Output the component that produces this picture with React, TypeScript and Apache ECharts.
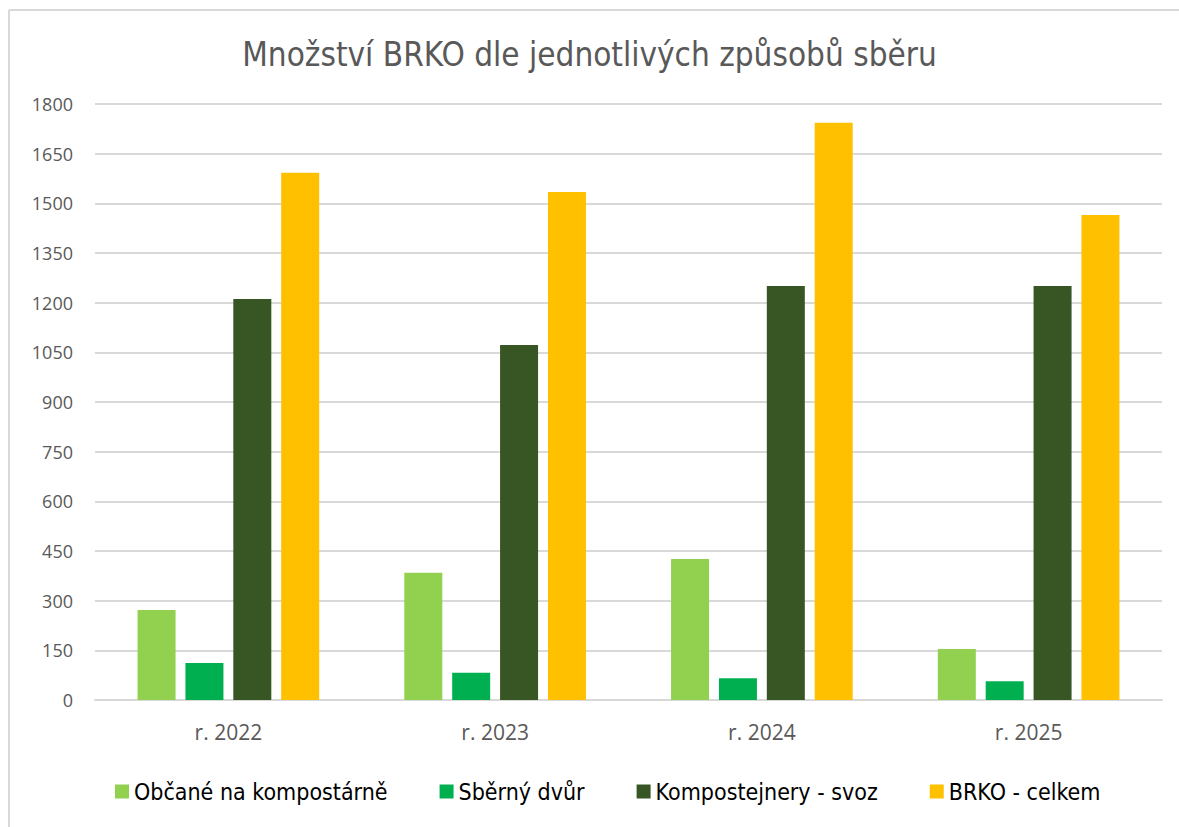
import React, { useEffect, useRef } from "react";
import * as echarts from "echarts";

const categories = ["r. 2022", "r. 2023", "r. 2024", "r. 2025"];
const seriesNames = ["Občané na kompostárně", "Sběrný dvůr", "Kompostejnery - svoz", "BRKO - celkem"];
const obcane = [272, 384, 426, 154];
const sberny = [112, 82, 66, 57];
const kompost = [1211, 1072, 1250, 1250];
const celkem = [1592, 1534, 1743, 1465];
const colors = ["#92D050", "#00B050", "#375623", "#FFC000"];
const yTicks = { min: 0, max: 1800, interval: 150 };

export default function App() {
  const ref = useRef<HTMLDivElement>(null);
  useEffect(() => {
    if (!ref.current) return;
    const chart = echarts.init(ref.current, undefined, { renderer: "svg" });
    const font = "'Open Sans', 'Noto Sans', sans-serif";
    const narrow = "'Liberation Sans Narrow', 'DejaVu Sans Condensed', 'Open Sans', sans-serif";
    const data = [obcane, sberny, kompost, celkem];
    chart.setOption({
      animation: false,
      backgroundColor: "#ffffff",
      title: {
        text: "Množství BRKO dle jednotlivých způsobů sběru",
        left: "center",
        top: 33,
        textStyle: { fontFamily: narrow, fontSize: 33, fontWeight: "normal", color: "#595959" },
      },
      graphic: [
        { type: "line", shape: { x1: 9, y1: 10, x2: 1179, y2: 10 }, style: { stroke: "#D9D9D9", lineWidth: 2 } },
        { type: "line", shape: { x1: 9, y1: 10, x2: 9, y2: 827 }, style: { stroke: "#D9D9D9", lineWidth: 2 } },
      ],
      legend: {
        bottom: 19,
        left: 110,
        itemWidth: 14,
        itemHeight: 14,
        itemGap: 52,
        icon: "rect",
        textStyle: { fontFamily: narrow, fontSize: 23, color: "#000000" },
        data: seriesNames,
      },
      grid: { left: 95, right: 17, top: 104, bottom: 127, containLabel: false },
      xAxis: {
        type: "category",
        data: categories,
        axisLine: { show: true, lineStyle: { color: "#D9D9D9", width: 2 } },
        axisTick: { show: false },
        axisLabel: { fontFamily: font, fontSize: 21, color: "#595959", margin: 21 },
      },
      yAxis: {
        type: "value",
        min: yTicks.min,
        max: yTicks.max,
        interval: yTicks.interval,
        axisLine: { show: false },
        axisTick: { show: false },
        axisLabel: { fontFamily: font, fontSize: 18, color: "#595959", margin: 22, formatter: (v: number) => String(v) },
        splitLine: { lineStyle: { color: "#D9D9D9", width: 2 } },
      },
      series: seriesNames.map((name, i) => ({
        name,
        type: "bar",
        data: data[i],
        barWidth: 38,
        barGap: "26%",
        itemStyle: { color: colors[i] },
      })),
    });
    return () => chart.dispose();
  }, []);
  return (
    <div
      ref={ref}
      style={{ position: "fixed", left: 0, top: 0, width: 1179, height: 827 }}
    />
  );
}
